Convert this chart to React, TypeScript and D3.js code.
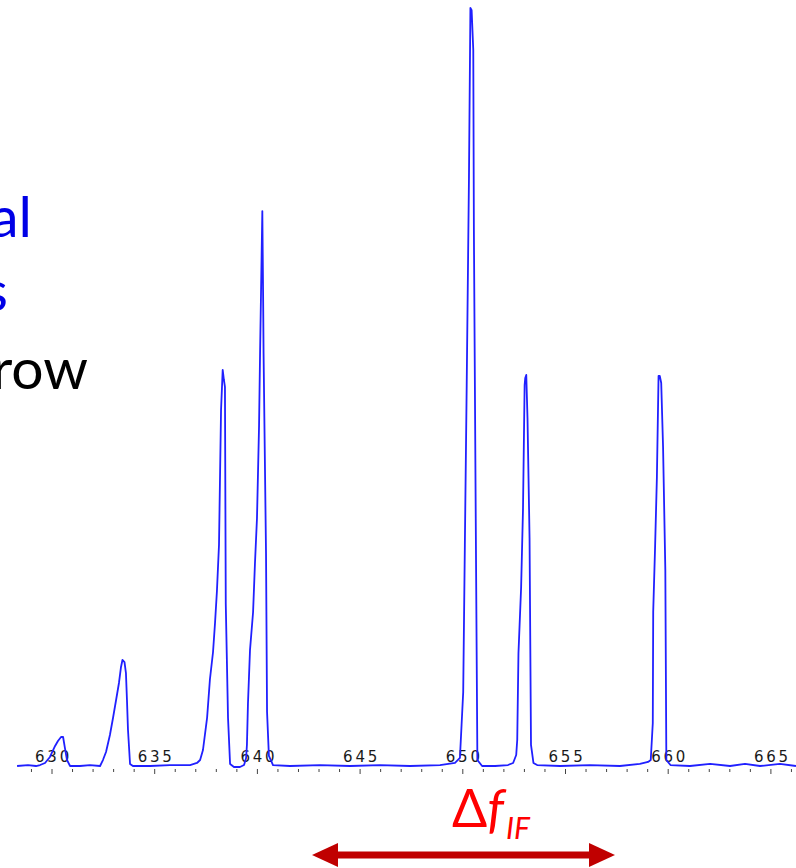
import React from "react";
import * as d3 from "d3";

// Spectrum trace: frequency (x units) and relative intensity (peak = 100)
const freq = [
  628.30, 628.83, 629.22, 629.42,
  629.66, 629.90, 630.15, 630.29, 630.44, 630.54, 630.63, 630.73, 630.88,
  631.36, 631.85, 632.34,
  632.48, 632.63, 632.82, 632.97, 633.12, 633.26, 633.36, 633.43, 633.53, 633.60, 633.65, 633.70, 633.80, 633.94,
  634.77, 635.74, 636.72, 637.06,
  637.21, 637.35, 637.55, 637.69, 637.84, 637.94, 638.03, 638.13, 638.23, 638.31, 638.37, 638.42, 638.46, 638.57, 638.67, 638.86, 639.15, 639.35,
  639.45, 639.49, 639.54, 639.64, 639.79, 639.88, 639.98, 640.08, 640.13, 640.18, 640.24, 640.28, 640.30, 640.42, 640.47, 640.56, 640.76,
  641.59, 643.05, 644.51, 645.97, 647.43, 648.89, 649.62,
  649.86, 649.94, 650.02, 650.10, 650.19, 650.30, 650.37, 650.43, 650.51, 650.54, 650.63, 650.71, 650.94,
  651.57, 652.20, 652.45,
  652.60, 652.65, 652.71, 652.84, 652.93, 653.01, 653.04, 653.09, 653.15, 653.25, 653.32, 653.44, 653.62,
  654.73, 656.19, 657.65, 658.62, 659.02,
  659.15, 659.25, 659.27, 659.36, 659.45, 659.53, 659.59, 659.66, 659.75, 659.86, 659.91, 660.11,
  661.06, 662.04, 663.01, 663.74, 664.47, 665.44, 666.22,
];
const intensity = [
  0.13, 0.26, 0.13, 0.26,
  0.53, 1.32, 2.77, 3.43, 3.95, 3.95, 2.5, 0.92, 0.13,
  0.13, 0.26, 0.13,
  0.92, 1.98, 4.22, 6.46, 8.83, 11.07, 13.18, 14.1, 13.83, 12.38, 8.83, 4.87, 0.4, 0.13,
  0.13, 0.26, 0.26, 0.53,
  0.92, 2.24, 6.46, 11.59, 15.15, 19.1, 23.19, 29.25, 47.04, 52.31, 50.99, 50.07, 21.48, 6.46, 0.4, 0, 0, 0.26,
  1.19, 2.9, 8.3, 15.42, 20.42, 26.75, 32.81, 44.93, 54.55, 63.11, 73.25, 61.53, 54.55, 28.06, 7.25, 1.45, 0.26,
  0.13, 0.26, 0.13, 0.26, 0.13, 0.26, 0.53,
  1.19, 5.53, 9.88, 29.25, 50.33, 77.6, 100, 99.7, 94.47, 70.75, 32.81, 0.92, 0.13,
  0.13, 0.26, 0.53,
  1.58, 3.56, 15.02, 23.72, 33.86, 50.33, 51.25, 51.65, 45.98, 30.17, 2.9, 0.53, 0.26,
  0.13, 0.26, 0.13, 0.4, 0.66,
  0.92, 5.8, 20.42, 28.85, 38.21, 51.52, 51.52, 50.59, 42.16, 25.96, 0.92, 0.26,
  0.13, 0.4, 0.13, 0.4, 0.13, 0.4, 0.13,
];

const majorTicks = [630, 635, 640, 645, 650, 655, 660, 665];
const minorTicks = d3.range(629, 667, 1);

const sideLabels = [
  { text: "al", color: "#0000e6", y: 237, xEnd: 32 },
  { text: "s", color: "#0000e6", y: 311, xEnd: 8 },
  { text: "row", color: "#000000", y: 389, xEnd: 88 },
];

const W = 796;
const H = 868;

export default function App() {
  const x = d3.scaleLinear().domain([630, 665]).range([52, 770.9]);
  const y = d3.scaleLinear().domain([0, 100]).range([767, 8]);
  const pts: [number, number][] = freq.map((f, i) => [f, intensity[i]]);
  const line = d3
    .line<[number, number]>()
    .x((d) => x(d[0]))
    .y((d) => y(d[1]))
    .curve(d3.curveLinear);
  const base = y(0);

  const arrowY = 855;
  const ax0 = 312;
  const ax1 = 615;

  return (
    <div style={{ position: "absolute", left: 0, top: 0 }}>
      <svg width={W} height={H} style={{ display: "block", background: "#fff" }}>
        {/* side text (cropped at the left edge, as in the reference) */}
        {sideLabels.map((l) => (
          <text
            key={l.text}
            x={l.xEnd}
            y={l.y}
            textAnchor="end"
            fontFamily="Lato, 'Open Sans', sans-serif"
            fontSize={57}
            fill={l.color}
          >
            {l.text}
          </text>
        ))}

        {/* ticks */}
        {minorTicks.map((t) => (
          <line
            key={"m" + t}
            x1={x(t)}
            x2={x(t)}
            y1={base + 2}
            y2={base + (t % 5 === 0 ? 7 : 5)}
            stroke="#444"
            strokeWidth={1}
          />
        ))}
        {majorTicks.map((t) => (
          <text
            key={"t" + t}
            x={x(t) + 1.5}
            y={base - 5}
            textAnchor="middle"
            fontFamily="'DejaVu Sans', Verdana, sans-serif"
            fontSize={15}
            letterSpacing={2.8}
            fill="#1a1a1a"
          >
            {t}
          </text>
        ))}

        {/* spectrum */}
        <path d={line(pts) || ""} fill="none" stroke="#2020ff" strokeWidth={1.8} strokeLinejoin="round" />

        {/* Δf_IF label */}
        <text
          x={452}
          y={827}
          fontFamily="Lato, 'Open Sans', sans-serif"
          fontSize={52}
          fill="#ff0000"
        >
          Δ
          <tspan fontStyle="italic">f</tspan>
          <tspan fontStyle="italic" fontSize={30} dy={12} dx={2}>
            IF
          </tspan>
        </text>

        {/* double arrow */}
        <line x1={ax0 + 20} x2={ax1 - 20} y1={arrowY} y2={arrowY} stroke="#c00000" strokeWidth={7} />
        <path
          d={`M${ax0},${arrowY} L${ax0 + 26},${arrowY - 12} L${ax0 + 26},${arrowY + 12} Z`}
          fill="#c00000"
        />
        <path
          d={`M${ax1},${arrowY} L${ax1 - 26},${arrowY - 12} L${ax1 - 26},${arrowY + 12} Z`}
          fill="#c00000"
        />
      </svg>
    </div>
  );
}
